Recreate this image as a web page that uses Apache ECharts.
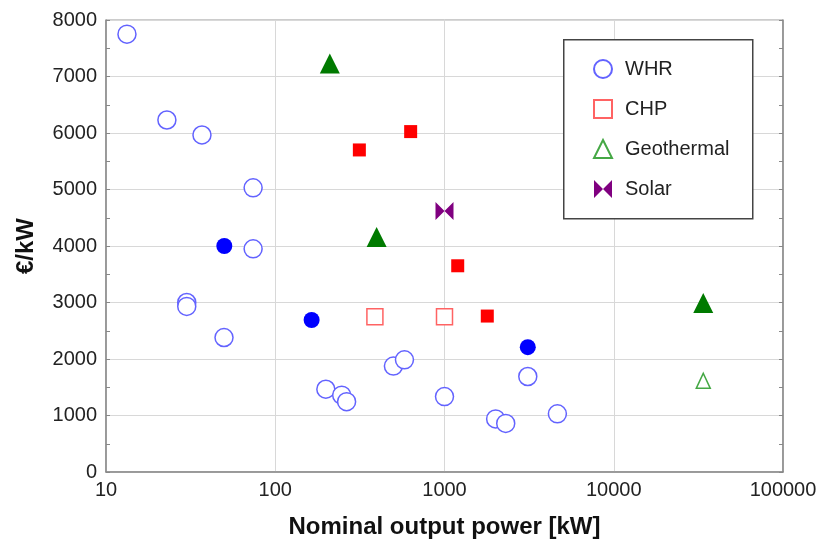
<!DOCTYPE html>
<html>
<head>
<meta charset="utf-8">
<script src="https://cdn.jsdelivr.net/npm/echarts@6/dist/echarts.min.js"></script>
<style>
html,body{margin:0;padding:0;background:#fff;}
#c{width:827px;height:539px;}
</style>
</head>
<body>
<div id="c"></div>
<script>
// Data
const whrOpenX = [13.3, 22.9, 36.9, 74, 74, 30, 30, 49.8, 199, 247, 264, 499, 580, 1000, 2005, 2300, 3105, 4645];
const whrOpenY = [7750, 6230, 5965, 5030, 3950, 3000, 2930, 2380, 1465, 1360, 1245, 1875, 1985, 1335, 940, 860, 1690, 1030];
const whrFilledX = [50, 164, 3105];
const whrFilledY = [4000, 2690, 2210];
const chpOpenX = [388, 1000];
const chpOpenY = [2750, 2750];
const chpFilledX = [314, 631, 1197, 1790];
const chpFilledY = [5700, 6025, 3650, 2760];
const geoFilledX = [210, 397, 33800];
const geoFilledY = [7230, 4159, 2990];
const geoOpenX = [33800];
const geoOpenY = [1614];
const solarX = [1000];
const solarY = [4620];
const xTicks = [10, 100, 1000, 10000, 100000];
const yTicks = [0, 1000, 2000, 3000, 4000, 5000, 6000, 7000, 8000];

const pairs = (xs, ys) => xs.map((x, i) => [x, ys[i]]);
const bowtie = 'path://M0,0 L10,10 L20,0 L20,20 L10,10 L0,20 Z';
const font = 'Liberation Sans, Arial, sans-serif';

const chart = echarts.init(document.getElementById('c'), null, {renderer: 'canvas'});
chart.setOption({
  animation: false,
  backgroundColor: '#fff',
  grid: {left: 106, right: 44, top: 20, bottom: 67, show: true, borderColor: '#999', borderWidth: 1,
    containLabel: false, outerBoundsMode: 'none'},
  xAxis: {
    type: 'log', logBase: 10, min: xTicks[0], max: xTicks[xTicks.length - 1],
    name: 'Nominal output power [kW]', nameLocation: 'middle', nameGap: 43,
    nameTextStyle: {fontFamily: font, fontWeight: 'bold', fontSize: 24, color: '#111'},
    axisLine: {lineStyle: {color: '#888', width: 1.5}},
    axisTick: {show: false},
    axisLabel: {fontFamily: font, fontSize: 20, color: '#222', margin: 8,
      formatter: v => String(Math.round(v))},
    splitLine: {show: true, lineStyle: {color: '#d8d8d8', width: 1}}
  },
  yAxis: [{
    type: 'value', min: yTicks[0], max: yTicks[yTicks.length - 1], interval: 1000,
    name: '€/kW', nameLocation: 'middle', nameGap: 68,
    nameTextStyle: {fontFamily: font, fontWeight: 'bold', fontSize: 24, color: '#111'},
    axisLine: {show: true, lineStyle: {color: '#888', width: 1.5}},
    axisTick: {show: true, inside: true, length: 4, lineStyle: {color: '#888'}},
    minorTick: {show: true, splitNumber: 2, length: 4, lineStyle: {color: '#888'}},
    axisLabel: {fontFamily: font, fontSize: 20, color: '#222', margin: 9,
      formatter: v => String(v)},
    splitLine: {show: true, lineStyle: {color: '#d8d8d8', width: 1}}
  }, {
    type: 'value', position: 'right', min: yTicks[0], max: yTicks[yTicks.length - 1], interval: 1000,
    axisLine: {show: true, lineStyle: {color: '#888', width: 1.5}},
    axisTick: {show: true, inside: true, length: 4, lineStyle: {color: '#888'}},
    minorTick: {show: true, splitNumber: 2, length: 4, lineStyle: {color: '#888'}},
    axisLabel: {show: false},
    splitLine: {show: false}
  }],
  graphic: [{
    type: 'rect', left: 563, top: 39, z: 5,
    shape: {width: 189, height: 179},
    style: {fill: '#fff', stroke: '#444', lineWidth: 1.5}
  }],
  legend: {
    data: ['WHR', 'CHP', 'Geothermal', 'Solar'],
    orient: 'vertical', left: 588, top: 54, z: 10,
    itemWidth: 18, itemHeight: 18, itemGap: 20,
    textStyle: {fontFamily: font, fontSize: 20, lineHeight: 18, color: '#222', padding: [0, 0, 0, 8]},
    selectedMode: false
  },
  series: [
    {name: 'WHR', type: 'scatter', data: pairs(whrOpenX, whrOpenY), symbol: 'circle', symbolSize: 18,
      itemStyle: {color: '#fff', borderColor: '#6363ff', borderWidth: 1.5, opacity: 1}},
    {name: 'WHR filled', type: 'scatter', data: pairs(whrFilledX, whrFilledY), symbol: 'circle', symbolSize: 16,
      itemStyle: {color: '#0000ff', opacity: 1}},
    {name: 'CHP', type: 'scatter', data: pairs(chpOpenX, chpOpenY), symbol: 'rect', symbolSize: 16,
      itemStyle: {color: '#fff', borderColor: '#ff6363', borderWidth: 1.5, opacity: 1}},
    {name: 'CHP filled', type: 'scatter', data: pairs(chpFilledX, chpFilledY), symbol: 'rect', symbolSize: 13,
      itemStyle: {color: '#ff0000', opacity: 1}},
    {name: 'Geothermal', type: 'scatter', data: pairs(geoOpenX, geoOpenY), symbol: 'triangle', symbolSize: [14, 15],
      itemStyle: {color: '#fff', borderColor: '#45a845', borderWidth: 1.5, opacity: 1}},
    {name: 'Geo filled', type: 'scatter', data: pairs(geoFilledX, geoFilledY), symbol: 'triangle', symbolSize: [20, 20],
      itemStyle: {color: '#007a00', opacity: 1}},
    {name: 'Solar', type: 'scatter', data: pairs(solarX, solarY), symbol: bowtie, symbolSize: [18, 18],
      itemStyle: {color: '#800080', opacity: 1}}
  ]
});
</script>
</body>
</html>
